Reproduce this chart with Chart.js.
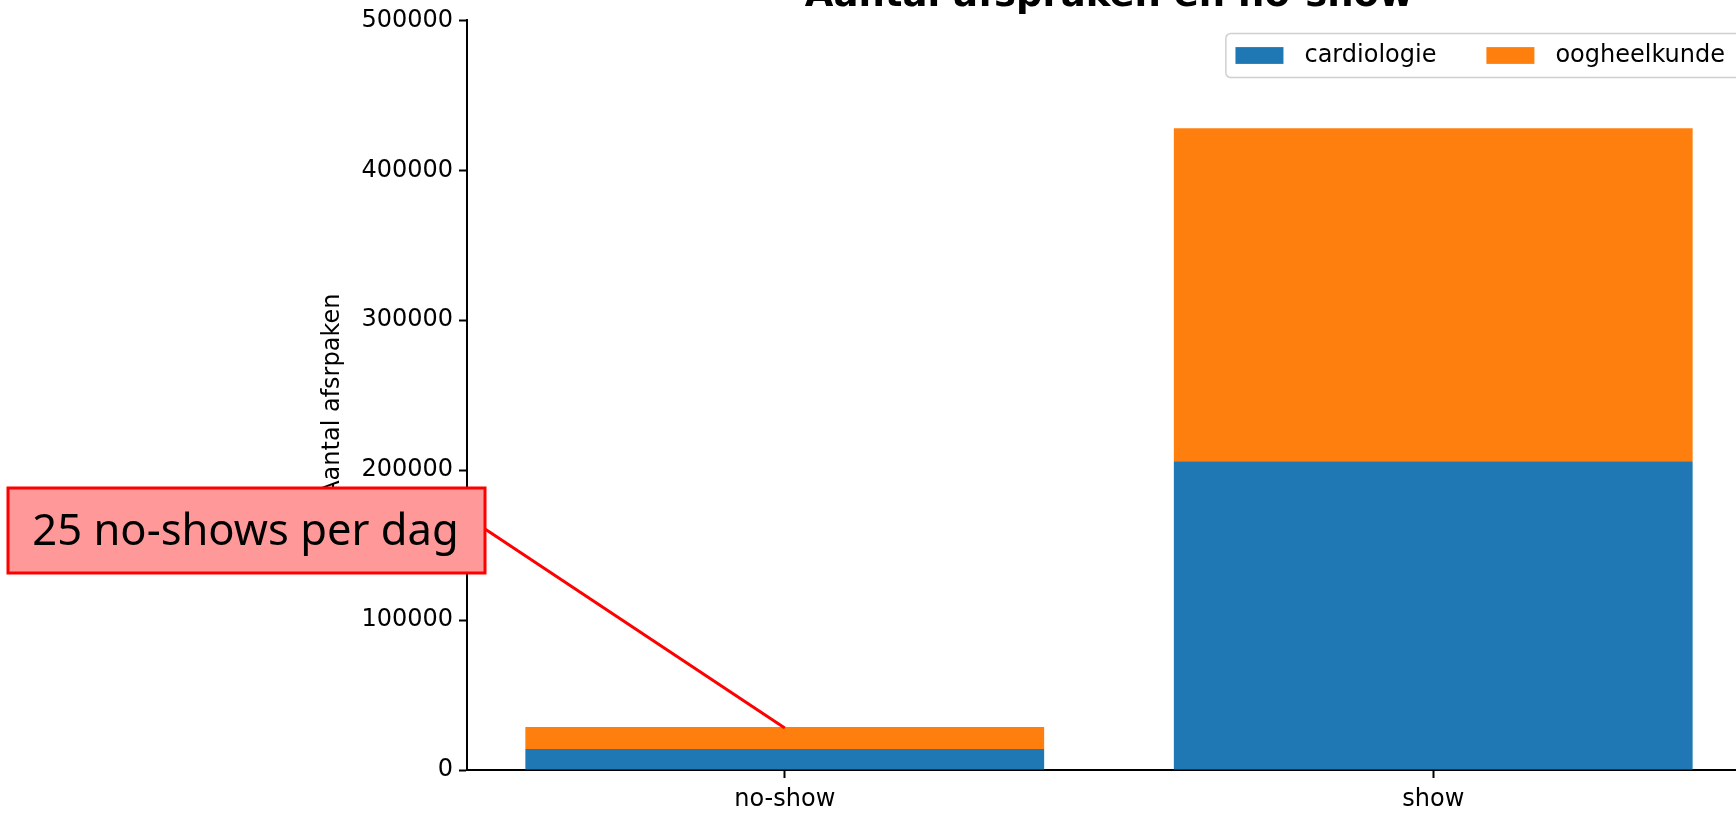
<!DOCTYPE html>
<html><head><meta charset="utf-8">
<script src="https://cdn.jsdelivr.net/npm/chart.js@4"></script>
<style>
html,body{margin:0;padding:0;overflow:hidden;background:#fff;width:1736px;height:813px;}
#wrap{position:absolute;left:0;top:0;width:1770px;height:813px;}
canvas{display:block;}
</style></head><body>
<div id="wrap"><canvas id="c" width="1770" height="813"></canvas></div>
<script>
// ---- data ----
const categories = ['no-show', 'show'];
const seriesNames = ['cardiologie', 'oogheelkunde'];
const cardiologie = [14000, 206000];
const oogheelkunde = [14600, 222000];
const yTickValues = [0, 100000, 200000, 300000, 400000, 500000];
const chartTitle = 'Aantal afspraken en no-show';
const yAxisTitle = 'Aantal afsrpaken';
const annotationText = '25 no-shows per dag';
const annotatedCategory = 0;

const BLUE = '#1f77b4', ORANGE = '#ff7f0e';
const FONT = '"DejaVu Sans", sans-serif';
const X_MARGIN = 0.49; // matplotlib-style axis margin around bars

const titlePlugin = {
  id: 'mplTitle',
  afterDraw(chart) {
    const ctx = chart.ctx, a = chart.chartArea;
    ctx.save();
    ctx.font = 'bold 37px ' + FONT;
    ctx.fillStyle = '#000';
    ctx.textAlign = 'center';
    ctx.textBaseline = 'alphabetic';
    ctx.fillText(chartTitle, (a.left + a.right) / 2, 6);
    ctx.restore();
  }
};

const legendPlugin = {
  id: 'mplLegend',
  afterDatasetsDraw(chart) {
    const ctx = chart.ctx, a = chart.chartArea;
    const fs = 24, pad = 9.6, padRight = 16, hl = 48, hh = 16.8, htp = 21, colsp = 50;
    ctx.save();
    ctx.font = fs + 'px ' + FONT;
    const items = chart.data.datasets.map(d => ({ label: d.label, color: d.backgroundColor, w: ctx.measureText(d.label).width }));
    let width = pad + padRight;
    items.forEach((it, i) => { width += hl + htp + it.w + (i ? colsp : 0); });
    const rowH = 25;
    const height = pad * 2 + rowH;
    const right = a.right - 10;
    const top = a.top + 13;
    const left = right - width;
    ctx.beginPath();
    ctx.roundRect(left, top, width, height, 5);
    ctx.fillStyle = 'rgba(255,255,255,0.8)';
    ctx.fill();
    ctx.lineWidth = 1.5;
    ctx.strokeStyle = '#d0d0d0';
    ctx.stroke();
    const cy = top + pad + rowH / 2;
    let x = left + pad;
    ctx.textBaseline = 'middle';
    ctx.textAlign = 'left';
    items.forEach((it, i) => {
      if (i) x += colsp;
      ctx.fillStyle = it.color;
      ctx.fillRect(x, cy - hh / 2, hl, hh);
      x += hl + htp;
      ctx.fillStyle = '#000';
      ctx.fillText(it.label, x, cy);
      x += it.w;
    });
    ctx.restore();
  }
};

const annotationPlugin = {
  id: 'boxAnnotation',
  afterDraw(chart) {
    const ctx = chart.ctx;
    const xs = chart.scales.x, ys = chart.scales.y;
    const total = cardiologie[annotatedCategory] + oogheelkunde[annotatedCategory];
    const px = xs.getPixelForValue(annotatedCategory);
    const py = ys.getPixelForValue(total) + 1;
    const bx = 8, by = 488, bw = 477, bh = 85;
    ctx.save();
    ctx.strokeStyle = '#ff0000';
    ctx.lineWidth = 3;
    ctx.beginPath();
    ctx.moveTo(bx + bw, by + 41);
    ctx.lineTo(px, py);
    ctx.stroke();
    ctx.fillStyle = '#ff9999';
    ctx.fillRect(bx, by, bw, bh);
    ctx.lineWidth = 3;
    ctx.strokeRect(bx, by, bw, bh);
    ctx.fillStyle = '#000';
    ctx.font = '43.5px "Noto Sans", sans-serif';
    ctx.textAlign = 'center';
    ctx.textBaseline = 'alphabetic';
    ctx.fillText(annotationText, bx + bw / 2 - 1, 545);
    ctx.restore();
  }
};

const toPoints = arr => arr.map((v, i) => ({ x: i, y: v }));

new Chart(document.getElementById('c'), {
  type: 'bar',
  data: {
    datasets: [
      { label: seriesNames[0], data: toPoints(cardiologie), backgroundColor: BLUE, borderWidth: 0 },
      { label: seriesNames[1], data: toPoints(oogheelkunde), backgroundColor: ORANGE, borderWidth: 0 }
    ]
  },
  options: {
    responsive: false,
    animation: false,
    devicePixelRatio: 1,
    layout: { padding: { top: 18, right: 19, left: 0, bottom: 0 } },
    plugins: { legend: { display: false }, tooltip: { enabled: false }, title: { display: false } },
    datasets: { bar: { categoryPercentage: 1, barPercentage: 0.8 } },
    scales: {
      x: {
        type: 'linear',
        stacked: true,
        offset: false,
        min: -X_MARGIN,
        max: categories.length - 1 + X_MARGIN,
        afterBuildTicks: s => { s.ticks = categories.map((c, i) => ({ value: i })); },
        afterFit: s => { s.height = 43; },
        grid: { display: true, offset: false, drawOnChartArea: false, tickLength: 8, tickWidth: 2, tickColor: '#000' },
        border: { display: true, color: '#000', width: 2 },
        ticks: { color: '#000', font: { family: FONT, size: 24 }, padding: 7, autoSkip: false, maxRotation: 0,
                 callback: v => categories[v] }
      },
      y: {
        stacked: true,
        min: yTickValues[0],
        max: yTickValues[yTickValues.length - 1],
        afterBuildTicks: s => { s.ticks = yTickValues.map(v => ({ value: v })); },
        afterFit: s => { s.width = 467; },
        grid: { display: true, offset: false, drawOnChartArea: false, tickLength: 8, tickWidth: 2, tickColor: '#000' },
        border: { display: true, color: '#000', width: 2 },
        ticks: { color: '#000', font: { family: FONT, size: 24 }, padding: 6, callback: v => String(v) },
        title: { display: true, text: yAxisTitle, color: '#000', font: { family: FONT, size: 24 }, padding: { top: 318.6, bottom: 0 } }
      }
    }
  },
  plugins: [titlePlugin, legendPlugin, annotationPlugin]
});
</script>
</body></html>
